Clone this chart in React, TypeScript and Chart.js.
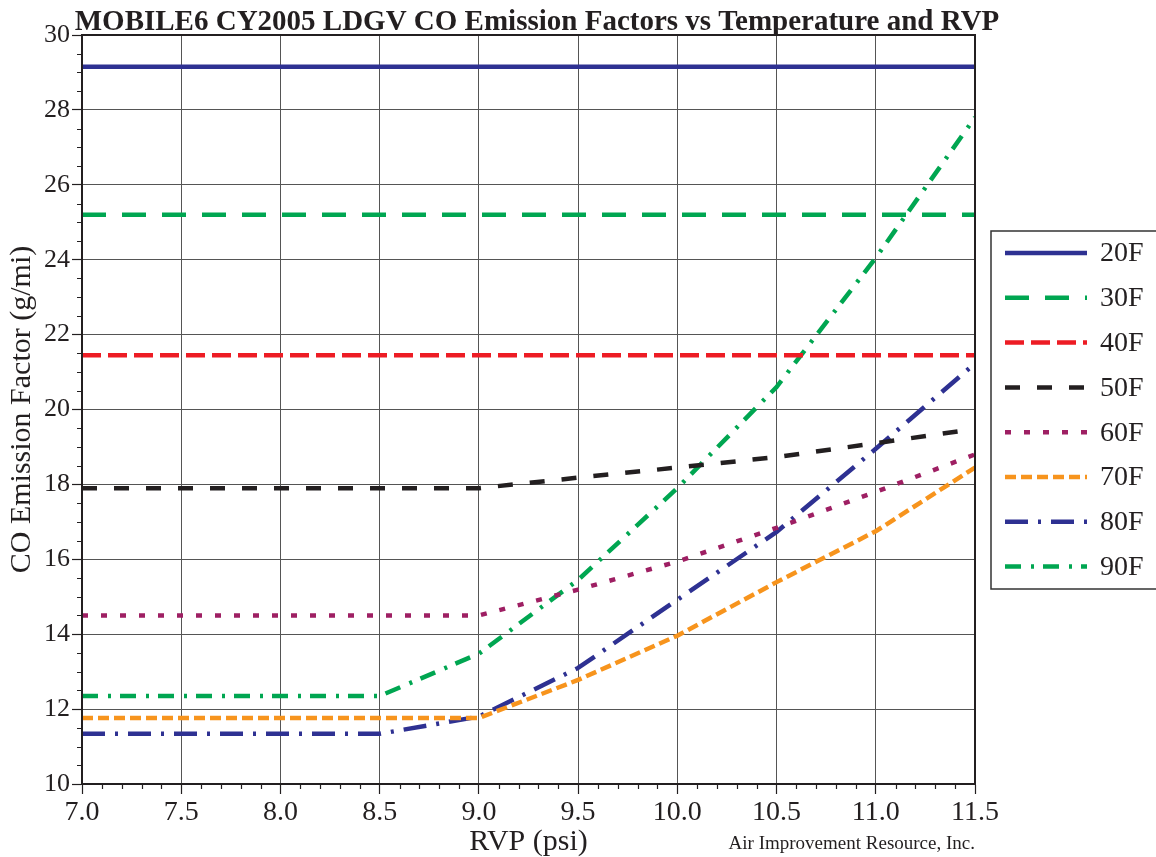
import React, { useEffect, useRef } from "react";
import { Chart, registerables } from "chart.js";

Chart.register(...registerables);

const FONT = "'Liberation Serif', 'Times New Roman', serif";

const titleText = "MOBILE6 CY2005 LDGV CO Emission Factors vs Temperature and RVP";
const xTitle = "RVP (psi)";
const yTitle = "CO Emission Factor (g/mi)";
const credit = "Air Improvement Resource, Inc.";

const rvp = [7.0, 7.5, 8.0, 8.5, 9.0, 9.5, 10.0, 10.5, 11.0, 11.5];

const seriesNames = ["20F", "30F", "40F", "50F", "60F", "70F", "80F", "90F"];
const f20 = [29.15, 29.15, 29.15, 29.15, 29.15, 29.15, 29.15, 29.15, 29.15, 29.15];
const f30 = [25.2, 25.2, 25.2, 25.2, 25.2, 25.2, 25.2, 25.2, 25.2, 25.2];
const f40 = [21.45, 21.45, 21.45, 21.45, 21.45, 21.45, 21.45, 21.45, 21.45, 21.45];
const f50 = [17.9, 17.9, 17.9, 17.9, 17.9, 18.18, 18.45, 18.73, 19.1, 19.48];
const f60 = [14.5, 14.5, 14.5, 14.5, 14.5, 15.19, 15.94, 16.84, 17.8, 18.8];
const f70 = [11.76, 11.76, 11.76, 11.76, 11.76, 12.78, 13.96, 15.39, 16.75, 18.45];
const f80 = [11.34, 11.34, 11.34, 11.34, 11.8, 13.1, 14.92, 16.73, 18.95, 21.23];
const f90 = [12.35, 12.35, 12.35, 12.35, 13.48, 15.45, 17.9, 20.6, 24.05, 27.8];

const seriesValues = [f20, f30, f40, f50, f60, f70, f80, f90];
const seriesColors = ["#2E3192", "#00A651", "#ED1C24", "#231F20", "#9E1F63", "#F7941D", "#2E3192", "#00A651"];
const seriesDashes: number[][] = [[], [24, 16], [19, 7], [15, 17], [6, 13], [11, 5], [23, 10, 3, 10], [16, 10, 3, 9]];

const xTicks = [7.0, 7.5, 8.0, 8.5, 9.0, 9.5, 10.0, 10.5, 11.0, 11.5];
const yTicks = [10, 12, 14, 16, 18, 20, 22, 24, 26, 28, 30];

const decorPlugin = {
  id: "decor",
  afterDraw(chart: any) {
    const { ctx, chartArea } = chart;
    const xs = chart.scales.x;
    const ys = chart.scales.y;
    ctx.save();
    // minor ticks
    ctx.strokeStyle = "#231F20";
    ctx.lineWidth = 1.2;
    ctx.beginPath();
    for (let i = 0; i <= 45; i++) {
      if (i % 5 === 0) continue;
      const px = Math.round(xs.getPixelForValue(7 + i * 0.1)) + 0.5;
      ctx.moveTo(px, chartArea.bottom);
      ctx.lineTo(px, chartArea.bottom + 5);
    }
    for (let i = 0; i <= 40; i++) {
      if (i % 4 === 0) continue;
      const py = Math.round(ys.getPixelForValue(10 + i * 0.5)) + 0.5;
      ctx.moveTo(chartArea.left, py);
      ctx.lineTo(chartArea.left - 5, py);
    }
    ctx.stroke();
    // frame
    ctx.lineWidth = 2;
    ctx.strokeStyle = "#231F20";
    ctx.strokeRect(chartArea.left, chartArea.top, chartArea.right - chartArea.left, chartArea.bottom - chartArea.top);
    // title
    ctx.fillStyle = "#231F20";
    ctx.font = `bold 29px ${FONT}`;
    ctx.textAlign = "center";
    ctx.textBaseline = "alphabetic";
    ctx.fillText(titleText, 537, 30);
    // credit
    ctx.font = `19px ${FONT}`;
    ctx.textAlign = "right";
    ctx.fillText(credit, 975, 849);
    // legend
    const boxX = 991, boxY = 231, boxH = 358;
    ctx.lineWidth = 1.5;
    ctx.strokeStyle = "#333";
    ctx.strokeRect(boxX, boxY, 200, boxH);
    chart.data.datasets.forEach((ds: any, i: number) => {
      const y = 253 + i * 44.8;
      ctx.save();
      ctx.strokeStyle = ds.borderColor;
      ctx.lineWidth = ds.borderWidth;
      ctx.setLineDash(ds.borderDash || []);
      ctx.lineCap = "butt";
      ctx.beginPath();
      ctx.moveTo(1005, y);
      ctx.lineTo(1087, y);
      ctx.stroke();
      ctx.restore();
      ctx.fillStyle = "#231F20";
      ctx.font = `28px ${FONT}`;
      ctx.textAlign = "left";
      ctx.textBaseline = "middle";
      ctx.fillText(ds.label, 1100, y + 1);
    });
    ctx.restore();
  },
};

export default function App() {
  const ref = useRef<HTMLCanvasElement>(null);
  useEffect(() => {
    document.body.style.margin = "0";
    document.body.style.overflow = "hidden";
    const canvas = ref.current!;
    const chart = new Chart(canvas, {
      type: "line",
      data: {
        datasets: seriesNames.map((name, i) => ({
          label: name,
          data: rvp.map((x, j) => ({ x, y: seriesValues[i][j] })),
          borderColor: seriesColors[i],
          backgroundColor: seriesColors[i],
          borderWidth: 4.5,
          borderDash: seriesDashes[i],
          borderCapStyle: "butt",
          pointRadius: 0,
          tension: 0,
          fill: false,
        })),
      },
      options: {
        animation: false,
        responsive: false,
        layout: { padding: { top: 35, right: 181, left: 0, bottom: 0 } },
        plugins: { legend: { display: false }, title: { display: false }, tooltip: { enabled: false } },
        scales: {
          x: {
            type: "linear",
            min: 7,
            max: 11.5,
            afterBuildTicks: (s: any) => { s.ticks = xTicks.map((v) => ({ value: v })); },
            afterFit: (s: any) => { s.height = 73; },
            ticks: {
              callback: (v: any) => Number(v).toFixed(1),
              font: { family: FONT, size: 28 },
              color: "#231F20",
              padding: 2,
              maxRotation: 0,
              autoSkip: false,
            },
            grid: { color: "#555", lineWidth: 1, tickLength: 10, tickColor: "#231F20", tickWidth: 1.2 },
            border: { color: "#231F20", width: 2 },
            title: { display: true, text: xTitle, font: { family: FONT, size: 30, lineHeight: 1.0 }, color: "#231F20", padding: 0 },
          },
          y: {
            type: "linear",
            min: 10,
            max: 30,
            afterBuildTicks: (s: any) => { s.ticks = yTicks.map((v) => ({ value: v })); },
            afterFit: (s: any) => { s.width = 82; },
            ticks: {
              font: { family: FONT, size: 26 },
              color: "#231F20",
              padding: 2,
            },
            grid: { color: "#555", lineWidth: 1, tickLength: 10, tickColor: "#231F20", tickWidth: 1.2 },
            border: { color: "#231F20", width: 2 },
            title: { display: true, text: yTitle, font: { family: FONT, size: 30, lineHeight: 1.0 }, color: "#231F20", padding: { top: 7, bottom: 0 } },
          },
        },
      },
      plugins: [decorPlugin],
    } as any);
    return () => chart.destroy();
  }, []);
  return (
    <div style={{ width: 1156, height: 857 }}>
      <canvas ref={ref} width={1156} height={857} style={{ display: "block" }} />
    </div>
  );
}
